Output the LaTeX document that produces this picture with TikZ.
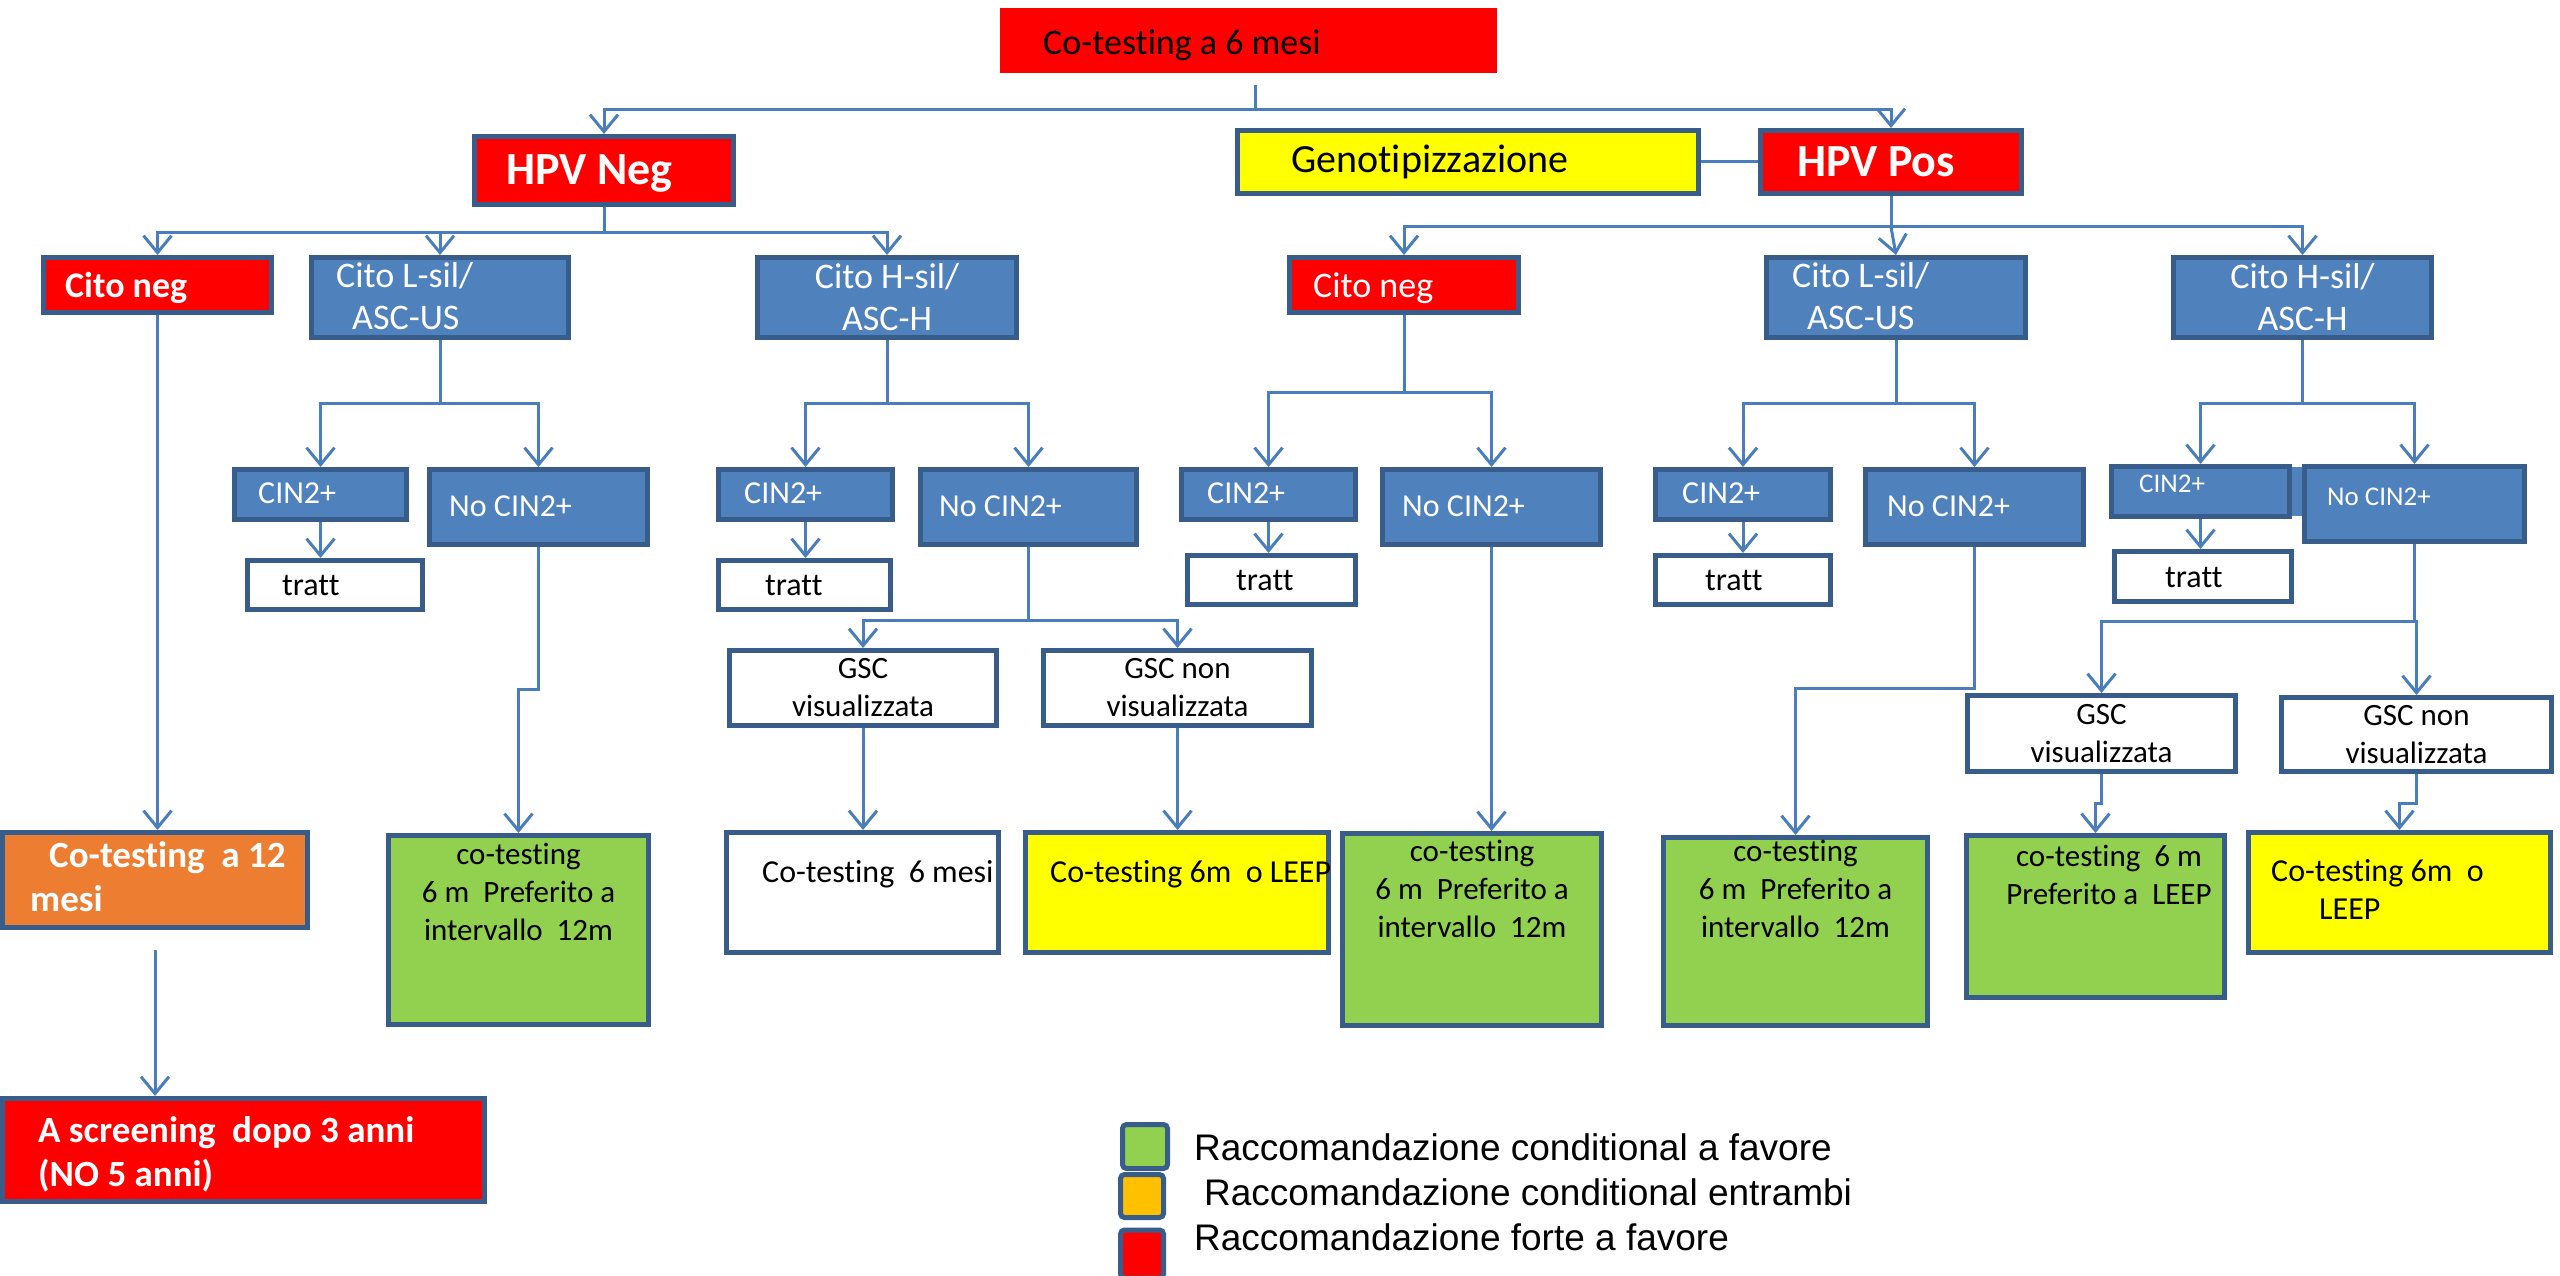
\documentclass[tikz,border=0pt]{standalone}
\usepackage{fontspec}
\setmainfont{Carlito}[Ligatures=NoCommon]
\newfontfamily\legendfont{Liberation Sans}
\usetikzlibrary{arrows.meta,positioning}
\definecolor{edge}{HTML}{385D8A}
\definecolor{link}{HTML}{4A7EBB}
\definecolor{cblue}{HTML}{4F81BD}
\definecolor{cred}{HTML}{FF0000}
\definecolor{cyellow}{HTML}{FFFF00}
\definecolor{cgreen}{HTML}{92D050}
\definecolor{corange}{HTML}{ED7D31}
\definecolor{cgold}{HTML}{FFC000}

\begin{document}
\begin{tikzpicture}[x=1pt, y=-1pt,
  box/.style={rectangle, draw=edge, line width=5pt, fill=#1, inner sep=0pt, align=center},
  txt/.style={inner sep=0pt, align=left, text=#1},
  txt/.default=black,
  conn/.style={draw=link, line width=3pt},
  arr/.style={conn, -{Straight Barb[length=17pt, width=28pt]}},
  f27/.style={font=\fontsize{27}{33}\selectfont},
  f31/.style={font=\fontsize{31}{38}\selectfont},
  f32/.style={font=\fontsize{32}{38}\selectfont},
  f36/.style={font=\fontsize{36}{42}\selectfont},
  f40/.style={font=\fontsize{40}{48}\selectfont},
  b36/.style={font=\fontsize{36}{42}\selectfont\bfseries},
  b37/.style={font=\fontsize{37}{44}\selectfont\bfseries},
  b46/.style={font=\fontsize{46}{55}\selectfont\bfseries},
  key/.style={font=\legendfont\fontsize{37}{44}\selectfont}
]
  \useasboundingbox (0,0) rectangle (2560,1276);

  % top of the tree
  \node[rectangle, fill=cred, minimum width=497, minimum height=65] (cotest6) at (1248.5,40.5) {};
  \node[txt, f36, anchor=base west] (cotest6t) at (1043,55) {Co-testing a 6 mesi};
  \node[box=cred, minimum width=259, minimum height=68] (hpvneg) at (604,170.5) {};
  \node[txt=white, b46, anchor=base west] (hpvnegt) at (506,185) {HPV Neg};
  \node[box=cyellow, minimum width=461, minimum height=63] (geno) at (1468,162) {};
  \node[txt, f40, anchor=base west] (genot) at (1291,173) {Genotipizzazione};
  \node[box=cred, minimum width=261, minimum height=63] (hpvpos) at (1891,162) {};
  \node[txt=white, b46, anchor=base west] (hpvpost) at (1797,177) {HPV Pos};

  % cytology
  \node[box=cred, minimum width=228, minimum height=55] (citonegA) at (157.5,285) {};
  \node[txt=white, b36, anchor=base west] (citonegAt) at (65,297) {Cito neg};
  \node[box=cblue, minimum width=257, minimum height=80] (lsilA) at (440,297.5) {};
  \node[txt=white, f36, anchor=north west] (lsilAt) at (336,262) {Cito L-sil/\\\hspace*{16pt}ASC-US};
  \node[box=cblue, minimum width=259, minimum height=80, text=white, f36] (hsilA) at (887,297.5) {Cito H-sil/\\ASC-H};
  \node[box=cred, minimum width=229, minimum height=55] (citonegB) at (1404,285) {};
  \node[txt=white, f36, anchor=base west] (citonegBt) at (1313,298) {Cito neg};
  \node[box=cblue, minimum width=259, minimum height=80] (lsilB) at (1896,297.5) {};
  \node[txt=white, f36, anchor=north west] (lsilBt) at (1792,262) {Cito L-sil/\\\hspace*{15pt}ASC-US};
  \node[box=cblue, minimum width=258, minimum height=80, text=white, f36] (hsilB) at (2302.5,297.5) {Cito H-sil/\\ASC-H};

  % colposcopy
  \fill[cblue] (2290,467) rectangle (2305,516);
  \node[box=cblue, minimum width=172, minimum height=50] (cinA) at (320.5,494.5) {};
  \node[txt=white, f32, anchor=base west] (cinAt) at (258,503) {CIN2+};
  \node[box=cblue, minimum width=218, minimum height=75] (nocinA) at (538.5,507) {};
  \node[txt=white, f32, anchor=base west] (nocinAt) at (449,516) {No CIN2+};
  \node[box=white, minimum width=175, minimum height=49] (trattA) at (335,585) {};
  \node[txt, f32, anchor=base west] (trattAt) at (282,595) {tratt};

  \node[box=cblue, minimum width=174, minimum height=50] (cinB) at (805.5,494.5) {};
  \node[txt=white, f32, anchor=base west] (cinBt) at (744,503) {CIN2+};
  \node[box=cblue, minimum width=216, minimum height=75] (nocinB) at (1028.5,507) {};
  \node[txt=white, f32, anchor=base west] (nocinBt) at (939,516) {No CIN2+};
  \node[box=white, minimum width=172, minimum height=49] (trattB) at (804.5,585) {};
  \node[txt, f32, anchor=base west] (trattBt) at (765,595) {tratt};

  \node[box=cblue, minimum width=174, minimum height=50] (cinC) at (1268.5,494.5) {};
  \node[txt=white, f32, anchor=base west] (cinCt) at (1207,503) {CIN2+};
  \node[box=cblue, minimum width=218, minimum height=75] (nocinC) at (1491.5,507) {};
  \node[txt=white, f32, anchor=base west] (nocinCt) at (1402,516) {No CIN2+};
  \node[box=white, minimum width=168, minimum height=49] (trattC) at (1271.5,580) {};
  \node[txt, f32, anchor=base west] (trattCt) at (1236,590) {tratt};

  \node[box=cblue, minimum width=175, minimum height=50] (cinD) at (1743,494.5) {};
  \node[txt=white, f32, anchor=base west] (cinDt) at (1682,503) {CIN2+};
  \node[box=cblue, minimum width=218, minimum height=75] (nocinD) at (1974.5,507) {};
  \node[txt=white, f32, anchor=base west] (nocinDt) at (1887,516) {No CIN2+};
  \node[box=white, minimum width=175, minimum height=49] (trattD) at (1743,580) {};
  \node[txt, f32, anchor=base west] (trattDt) at (1705,590) {tratt};

  \node[box=cblue, minimum width=178, minimum height=50] (cinE) at (2200.5,491.5) {};
  \node[txt=white, f27, anchor=base west] (cinEt) at (2139,492) {CIN2+};
  \node[box=cblue, minimum width=220, minimum height=75] (nocinE) at (2414.5,504) {};
  \node[txt=white, f27, anchor=base west] (nocinEt) at (2327,505) {No CIN2+};
  \node[box=white, minimum width=177, minimum height=50] (trattE) at (2203,576.5) {};
  \node[txt, f32, anchor=base west] (trattEt) at (2165,587) {tratt};

  % squamocolumnar junction
  \node[box=white, minimum width=267, minimum height=75, f31] (gscA) at (863,688) {GSC\\visualizzata};
  \node[box=white, minimum width=268, minimum height=75, f31] (gscnA) at (1177.5,688) {GSC non\\visualizzata};
  \node[box=white, minimum width=268, minimum height=76, f31] (gscB) at (2101.5,733.5) {GSC\\visualizzata};
  \node[box=white, minimum width=270, minimum height=74, f31] (gscnB) at (2416.5,734.5) {GSC non\\visualizzata};

  % outcomes
  \node[box=corange, minimum width=305, minimum height=95] (res12) at (155,880) {};
  \node[txt=white, b37, anchor=north west] (res12t) at (30,841) {\hspace*{19pt}Co-testing\ \ a 12\\mesi};
  \node[box=cred, minimum width=482, minimum height=103] (screen) at (243.5,1150) {};
  \node[txt=white, b37, anchor=north west] (screent) at (38,1116) {A screening\ \ dopo 3 anni\\(NO 5 anni)};
  \node[box=cgreen, minimum width=260, minimum height=189] (resA) at (518.5,930) {};
  \node[txt, f31, align=center, anchor=north] (resAt) at (518.5,843) {co-testing\\6 m\ \ Preferito a\\intervallo\ \ 12m};
  \node[box=white, minimum width=272, minimum height=120] (resB) at (862.5,892.5) {};
  \node[txt, f32, anchor=base west] (resBt) at (762,882) {Co-testing\ \ 6 mesi};
  \node[box=cyellow, minimum width=303, minimum height=120] (resC) at (1177,892.5) {};
  \node[txt, f32, anchor=base west] (resCt) at (1050,882) {Co-testing 6m\ \ o LEEP};
  \node[box=cgreen, minimum width=259, minimum height=192] (resD) at (1472,929.5) {};
  \node[txt, f31, align=center, anchor=north] (resDt) at (1472,840) {co-testing\\6 m\ \ Preferito a\\intervallo\ \ 12m};
  \node[box=cgreen, minimum width=264, minimum height=188] (resE) at (1795.5,931.5) {};
  \node[txt, f31, align=center, anchor=north] (resEt) at (1795.5,840) {co-testing\\6 m\ \ Preferito a\\intervallo\ \ 12m};
  \node[box=cgreen, minimum width=258, minimum height=162] (resF) at (2095.5,916.5) {};
  \node[txt, f31, align=center, anchor=north] (resFt) at (2109,845) {co-testing\ \ 6 m\\Preferito a\ \ LEEP};
  \node[box=cyellow, minimum width=302, minimum height=120] (resG) at (2399.5,892.5) {};
  \node[txt, f32, anchor=north west] (resGt) at (2271,859) {Co-testing 6m\ \ o\\\hspace*{48pt}LEEP};

  % legend
  \node[box=cgreen, rounded corners=4pt, minimum width=45, minimum height=44] (keyg) at (1145,1146.5) {};
  \node[box=cgold, rounded corners=4pt, minimum width=43, minimum height=43] (keyo) at (1142,1196) {};
  \node[box=cred, rounded corners=4pt, minimum width=43, minimum height=48] (keyr) at (1142,1254) {};
  \node[txt, key, anchor=base west] (keygt) at (1194,1160) {Raccomandazione conditional a favore};
  \node[txt, key, anchor=base west] (keyot) at (1204,1205) {Raccomandazione conditional entrambi};
  \node[txt, key, anchor=base west] (keyrt) at (1194,1250) {Raccomandazione forte a favore};

  % connectors
  \coordinate (topfork) at (1255,110);
  \coordinate (negfork) at (604,233);
  \coordinate (posfork) at (1891,227);
  \coordinate (forkA) at (440,403);
  \coordinate (forkB) at (887,403);
  \coordinate (forkC) at (1404,392);
  \coordinate (forkD) at (1896,403);
  \coordinate (forkE) at (2302.5,403);
  \coordinate (forkG) at (1028.5,620);
  \coordinate (forkH) at (2414.5,621);

  \draw[conn, shorten <=12pt] (cotest6.south -| topfork) -- (topfork);
  \draw[arr] (topfork) -| (hpvneg.north);
  \draw[arr] (topfork) -| (hpvpos.north);
  \draw[conn] (geno) -- (hpvpos);

  \draw[conn] (hpvneg) -- (negfork);
  \draw[arr] (negfork) -| (citonegA.north);
  \draw[arr] (negfork) -| (lsilA.north);
  \draw[arr] (negfork) -| (hsilA.north);
  \draw[conn] (hpvpos) -- (posfork);
  \draw[arr] (posfork) -| (citonegB.north);
  \draw[arr] (posfork) -- (lsilB.north);
  \draw[arr] (posfork) -| (hsilB.north);

  \draw[conn] (lsilA) -- (forkA);
  \draw[arr] (forkA) -| (cinA.north);
  \draw[arr] (forkA) -| (nocinA.north);
  \draw[conn] (hsilA) -- (forkB);
  \draw[arr] (forkB) -| (cinB.north);
  \draw[arr] (forkB) -| (nocinB.north);
  \draw[conn] (citonegB) -- (forkC);
  \draw[arr] (forkC) -| (cinC.north);
  \draw[arr] (forkC) -| (nocinC.north);
  \draw[conn] (lsilB) -- (forkD);
  \draw[arr] (forkD) -| (cinD.north);
  \draw[arr] (forkD) -| (nocinD.north);
  \draw[conn] (hsilB) -- (forkE);
  \draw[arr] (forkE) -| (cinE.north);
  \draw[arr] (forkE) -| (nocinE.north);

  \draw[arr] (cinA) -- (cinA |- trattA.north);
  \draw[arr] (cinB) -- (cinB |- trattB.north);
  \draw[arr] (cinC) -- (cinC |- trattC.north);
  \draw[arr] (cinD) -- (cinD |- trattD.north);
  \draw[arr] (cinE) -- (cinE |- trattE.north);

  \draw[conn] (nocinB) -- (forkG);
  \draw[arr] (forkG) -| (gscA.north);
  \draw[arr] (forkG) -| (gscnA.north);
  \draw[conn] (nocinE) -- (forkH);
  \draw[arr] (forkH) -| (gscB.north);
  \draw[arr] (forkH) -| (gscnB.north);

  \draw[arr] (citonegA) -- (citonegA |- res12.north);
  \draw[arr, shorten <=20pt] (res12) -- (res12 |- screen.north);
  \draw[arr] (nocinA.south) -- ++(0,142) -| (resA.north);
  \draw[arr] (gscA) -- (gscA |- resB.north);
  \draw[arr] (gscnA) -- (gscnA |- resC.north);
  \draw[arr] (nocinC) -- (nocinC |- resD.north);
  \draw[arr] (nocinD.south) -- ++(0,141) -| (resE.north);
  \draw[arr] (gscB.south) -- ++(0,29) -| (resF.north);
  \draw[arr] (gscnB.south) -- ++(0,29) -| (resG.north);
\end{tikzpicture}
\end{document}
